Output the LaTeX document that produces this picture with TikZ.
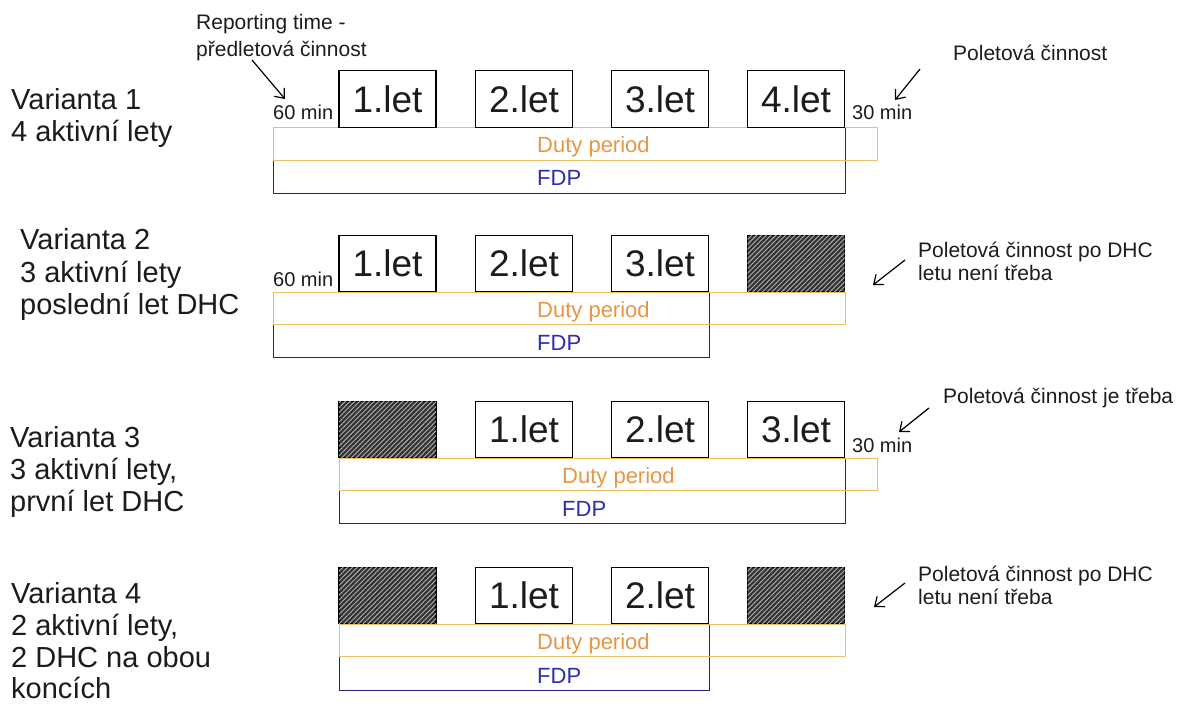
\documentclass[tikz,border=0pt]{standalone}
\usepackage{fontspec}
\setmainfont{Liberation Sans}
\usetikzlibrary{patterns.meta,arrows.meta}
\definecolor{dutyc}{RGB}{232,150,70}
\definecolor{dutyl}{RGB}{236,190,100}
\definecolor{fdpc}{RGB}{45,45,175}
\definecolor{fdpl}{RGB}{35,35,125}
\definecolor{txt}{RGB}{28,28,28}
\tikzset{
  lbl/.style={anchor=base west, inner sep=0pt, font=\fontsize{29}{32}\selectfont, text=txt},
  sm/.style={anchor=base west, inner sep=0pt, font=\fontsize{21}{24}\selectfont, text=txt},
  mn/.style={anchor=base west, inner sep=0pt, font=\fontsize{20}{24}\selectfont, text=txt},
  flight/.style={draw=black, line width=1.1pt, minimum width=97pt, minimum height=56.5pt, inner sep=0pt, font=\fontsize{37}{40}\selectfont, text=txt},
  dhc/.style={draw=black, line width=1.1pt, minimum width=97pt, minimum height=56.5pt, inner sep=0pt, fill=black!80,
    postaction={pattern={Lines[angle=45,distance=3.4pt,line width=0.9pt]}, pattern color=black!30}},
  dutybox/.style={draw=dutyl, line width=0.9pt},
  fdpbox/.style={draw=fdpl, line width=0.9pt},
  dutytxt/.style={anchor=base west, inner sep=0pt, font=\fontsize{22}{24}\selectfont, text=dutyc},
  fdptxt/.style={anchor=base west, inner sep=0pt, font=\fontsize{22}{24}\selectfont, text=fdpc},
  arr/.style={draw=black, line width=1.2pt, -{Straight Barb[length=8pt,width=13pt]}}
}
\begin{document}
\begin{tikzpicture}[x=1pt,y=-1pt]
\useasboundingbox (0,0) rectangle (1179,713);
\fill[white] (0,0) rectangle (1179,713);

% ---------- Row 1 ----------
\node[lbl] (v1a) at (11,109) {Varianta 1};
\node[lbl] (v1b) at (11,141) {4 aktivní lety};
\node[sm] (rep1) at (196,29) {Reporting time -};
\node[sm] (rep2) at (196,56) {předletová činnost};
\node[sm] (pol1) at (953,60) {Poletová činnost};
\draw[fdpbox] (273,127) rectangle (845,193);
\draw[dutybox] (273,127) rectangle (877,160);
\node[dutytxt] (d1) at (537,152) {Duty period};
\node[fdptxt] (f1) at (537,185) {FDP};
\node[flight] (r1c1) at (387.5,99) {1.let};
\node[flight] (r1c2) at (524,99) {2.let};
\node[flight] (r1c3) at (660,99) {3.let};
\node[flight] (r1c4) at (796,99) {4.let};
\node[mn] (m60a) at (273,119) {60 min};
\node[mn] (m30a) at (852,119) {30 min};
\coordinate (a1s) at (252,60);
\coordinate (a1e) at (285,99);
\draw[arr] (a1s) -- (a1e);
\coordinate (a2s) at (920,69);
\coordinate (a2e) at (895,100);
\draw[arr] (a2s) -- (a2e);

% ---------- Row 2 ----------
\node[lbl] (v2a) at (20,249) {Varianta 2};
\node[lbl] (v2b) at (20,282) {3 aktivní lety};
\node[lbl] (v2c) at (20,314) {poslední let DHC};
\draw[fdpbox] (273,292) rectangle (709,357);
\draw[dutybox] (273,292) rectangle (845,324);
\node[dutytxt] (d2) at (537,317) {Duty period};
\node[fdptxt] (f2) at (537,350) {FDP};
\node[flight] (r2c1) at (387.5,263.5) {1.let};
\node[flight] (r2c2) at (524,263.5) {2.let};
\node[flight] (r2c3) at (660,263.5) {3.let};
\node[dhc] (r2c4) at (796,263.5) {};
\node[mn] (m60b) at (273,286) {60 min};
\node[sm] (p2a) at (918,257) {Poletová činnost po DHC};
\node[sm] (p2b) at (918,280) {letu není třeba};
\coordinate (a3s) at (905,260);
\coordinate (a3e) at (873,285);
\draw[arr] (a3s) -- (a3e);

% ---------- Row 3 ----------
\node[lbl] (v3a) at (10,447) {Varianta 3};
\node[lbl] (v3b) at (10,479) {3 aktivní lety,};
\node[lbl] (v3c) at (10,511) {první let DHC};
\draw[fdpbox] (339,458) rectangle (845,523);
\draw[dutybox] (339,458) rectangle (877,490);
\node[dutytxt] (d3) at (562,483) {Duty period};
\node[fdptxt] (f3) at (562,516) {FDP};
\node[dhc] (r3c1) at (387.5,429.5) {};
\node[flight] (r3c2) at (524,429.5) {1.let};
\node[flight] (r3c3) at (660,429.5) {2.let};
\node[flight] (r3c4) at (796,429.5) {3.let};
\node[mn] (m30b) at (852,452) {30 min};
\node[sm] (p3) at (943,403) {Poletová činnost je třeba};
\coordinate (a4s) at (929,408);
\coordinate (a4e) at (899,432);
\draw[arr] (a4s) -- (a4e);

% ---------- Row 4 ----------
\node[lbl] (v4a) at (11,603) {Varianta 4};
\node[lbl] (v4b) at (11,635) {2 aktivní lety,};
\node[lbl] (v4c) at (11,667) {2 DHC na obou};
\node[lbl] (v4d) at (11,698) {koncích};
\draw[fdpbox] (339,624) rectangle (709,690);
\draw[dutybox] (339,624) rectangle (845,656);
\node[dutytxt] (d4) at (537,649) {Duty period};
\node[fdptxt] (f4) at (537,683) {FDP};
\node[dhc] (r4c1) at (387.5,595.5) {};
\node[flight] (r4c2) at (524,595.5) {1.let};
\node[flight] (r4c3) at (660,595.5) {2.let};
\node[dhc] (r4c4) at (796,595.5) {};
\node[sm] (p4a) at (918,581) {Poletová činnost po DHC};
\node[sm] (p4b) at (918,604) {letu není třeba};
\coordinate (a5s) at (905,583);
\coordinate (a5e) at (874,607);
\draw[arr] (a5s) -- (a5e);
\end{tikzpicture}
\end{document}
